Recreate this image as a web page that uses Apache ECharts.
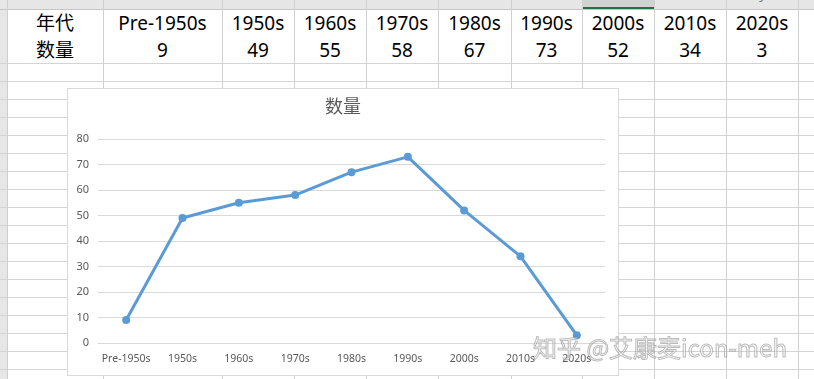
<!DOCTYPE html>
<html>
<head>
<meta charset="utf-8">
<script src="https://cdn.jsdelivr.net/npm/echarts@6/dist/echarts.min.js"></script>
<style>
  html, body { margin: 0; padding: 0; width: 814px; height: 379px; overflow: hidden; background: #fff; }
  #sheet { position: absolute; left: 0; top: 0; width: 814px; height: 379px; }
  .ln { position: absolute; background: #d4d4d4; }
  .cell { position: absolute; text-align: center; font-family: "Noto Sans", "Noto Sans CJK SC", sans-serif; font-size: 19px; color: #000; white-space: nowrap; }
  .colhdr { position: absolute; top: 0; height: 9px; overflow: hidden; text-align: center; font-family: "Noto Sans", sans-serif; font-size: 13px; color: #777; }
  .colhdr span { position: relative; top: -11px; line-height: 13px; display: block; }
  #box { position: absolute; left: 67px; top: 88px; width: 550px; height: 286px; border: 1px solid #d9d9d9; background: #fff; }
  #chart { width: 550px; height: 286px; }
  #wm { position: absolute; left: 533px; top: 331px; font-family: "Noto Sans CJK SC", sans-serif; font-size: 24px; color: rgba(255,255,255,0.55); -webkit-text-stroke: 1px rgba(120,120,120,0.5); white-space: nowrap; line-height: 32px; }
</style>
</head>
<body>
<div id="sheet"></div>
<div id="box"><div id="chart"></div></div>
<div id="wm">知乎 @艾康麦icon-meh</div>
<script>
// ---- data ----
const rowLabels = ['年代', '数量'];
const categories = ['Pre-1950s', '1950s', '1960s', '1970s', '1980s', '1990s', '2000s', '2010s', '2020s'];
const counts = [9, 49, 55, 58, 67, 73, 52, 34, 3];
const colLetters = ['A', 'B', 'C', 'D', 'E', 'F', 'G', 'H', 'I', 'J'];
const yTicks = [0, 10, 20, 30, 40, 50, 60, 70, 80];

// ---- spreadsheet background ----
const sheet = document.getElementById('sheet');
const colX = [7, 103, 222, 294, 366, 438, 511, 582, 654, 726, 798];
function div(cls, style, text) {
  const d = document.createElement('div');
  d.className = cls;
  Object.assign(d.style, style);
  if (text !== undefined) d.textContent = text;
  sheet.appendChild(d);
  return d;
}
// header band + row-number column
div('', { position: 'absolute', left: '0px', top: '0px', width: '814px', height: '9px', background: '#e6e6e6' });
div('', { position: 'absolute', left: '0px', top: '0px', width: '7px', height: '379px', background: '#e6e6e6' });
div('', { position: 'absolute', left: colX[7] + 'px', top: '0px', width: (colX[8] - colX[7]) + 'px', height: '9px', background: '#d2d2d2' });
div('', { position: 'absolute', left: colX[7] + 'px', top: '7px', width: (colX[8] - colX[7]) + 'px', height: '2px', background: '#217346' });
for (let i = 0; i < colLetters.length; i++) {
  const h = div('colhdr', { left: colX[i] + 'px', width: (colX[i + 1] - colX[i]) + 'px' });
  const s = document.createElement('span');
  s.textContent = colLetters[i];
  h.appendChild(s);
}
// horizontal lines
const rowY = [9, 63];
for (let y = 81; y < 379; y += 18) rowY.push(y);
rowY.forEach(y => div('ln', { left: '0px', top: y + 'px', width: '814px', height: '1px', background: y === 9 ? '#c6c6c6' : '#d4d4d4' }));
// vertical lines
colX.forEach(x => div('ln', { left: x + 'px', top: '0px', width: '1px', height: '379px', background: '#d0d0d0' }));
// table text
const rowsText = [[rowLabels[0]].concat(categories), [rowLabels[1]].concat(counts.map(String))];
const rowCenter = [23, 50];
rowsText.forEach((row, r) => {
  row.forEach((t, c) => {
    div('cell', { left: colX[c] + 'px', width: (colX[c + 1] - colX[c]) + 'px', top: (rowCenter[r] - 14) + 'px', lineHeight: '28px' }, t);
  });
});

// ---- chart ----
const chart = echarts.init(document.getElementById('chart'), null, { renderer: 'canvas' });
chart.setOption({
  animation: false,
  backgroundColor: '#fff',
  title: {
    text: '数量', left: 'center', top: 8, padding: 0,
    textStyle: { fontFamily: 'Noto Sans CJK SC', fontSize: 18, fontWeight: 'normal', color: '#595959' }
  },
  grid: { left: 30, right: 13, top: 50, bottom: 32 },
  xAxis: {
    type: 'category', data: categories, boundaryGap: true,
    axisLine: { show: true, lineStyle: { color: '#d9d9d9', width: 1 } },
    axisTick: { show: false },
    axisLabel: { color: '#595959', fontSize: 10.5, fontFamily: 'Noto Sans', margin: 11, interval: 0 },
    splitLine: { show: false }
  },
  yAxis: {
    type: 'value', min: yTicks[0], max: yTicks[yTicks.length - 1], interval: 10,
    axisLine: { show: false }, axisTick: { show: false },
    axisLabel: { color: '#595959', fontSize: 11, fontFamily: 'Noto Sans', margin: 9 },
    splitLine: { lineStyle: { color: '#d9d9d9', width: 1 } }
  },
  series: [{
    type: 'line', data: counts,
    symbol: 'circle', symbolSize: 8,
    lineStyle: { color: '#5b9bd5', width: 3 },
    itemStyle: { color: '#5b9bd5' }
  }]
});
</script>
</body>
</html>
